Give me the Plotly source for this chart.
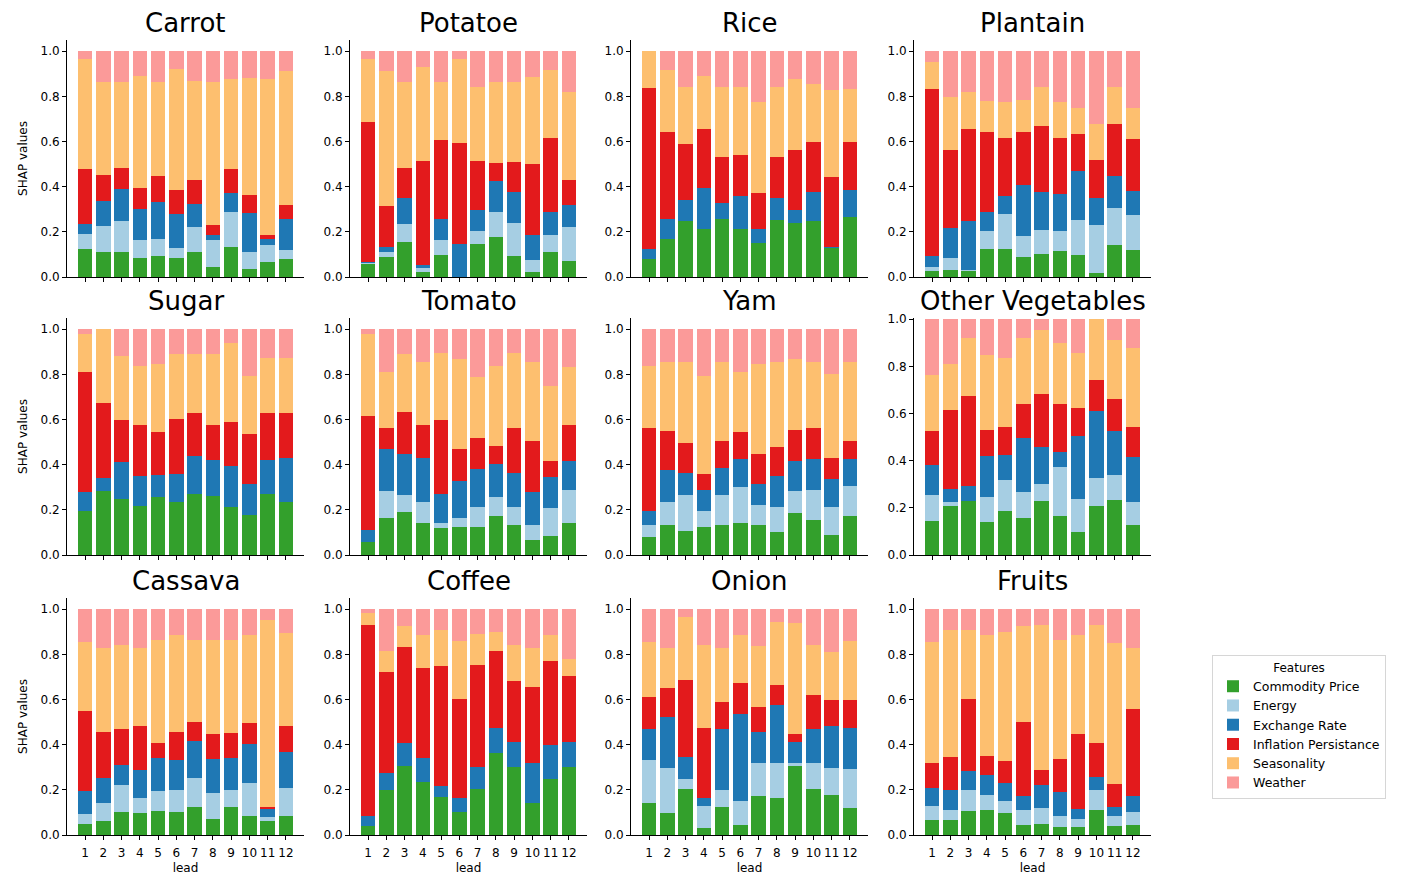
import plotly.graph_objects as go
from plotly.subplots import make_subplots

# Forecast horizons (months ahead)
leads = list(range(1, 13))

features = ["Commodity Price", "Energy", "Exchange Rate",
            "Inflation Persistance", "Seasonality", "Weather"]
colors = ["#33a02c", "#a6cee3", "#1f78b4", "#e31a1c", "#fdbf6f", "#fb9a99"]

# Normalised mean |SHAP| share per feature group, one list per feature (order as `features`)
carrot = [
    [.124, .112, .112, .085, .094, .085, .112, .043, .133, .034, .066, .080],
    [.067, .112, .134, .080, .075, .043, .109, .122, .153, .078, .074, .038],
    [.045, .113, .143, .137, .164, .149, .102, .022, .085, .171, .029, .140],
    [.241, .115, .096, .093, .116, .110, .107, .043, .106, .079, .018, .062],
    [.491, .410, .380, .496, .416, .536, .437, .635, .402, .520, .692, .592],
    [.032, .138, .135, .109, .135, .077, .133, .135, .121, .118, .121, .088],
]
potatoe = [
    [.062, .088, .156, .021, .097, 0, .146, .177, .094, .021, .112, .070],
    [.003, .021, .080, .019, .068, 0, .056, .110, .145, .053, .075, .150],
    [.003, .026, .116, .013, .091, .147, .095, .139, .139, .113, .103, .100],
    [.620, .180, .130, .462, .351, .448, .218, .078, .130, .314, .324, .110],
    [.280, .597, .383, .416, .258, .373, .327, .361, .357, .386, .302, .390],
    [.032, .088, .135, .069, .135, .032, .158, .135, .135, .113, .084, .180],
]
rice = [
    [.080, .168, .246, .212, .258, .214, .150, .253, .239, .249, .131, .268],
    [0, 0, 0, 0, 0, 0, 0, 0, 0, 0, 0, 0],
    [.044, .088, .096, .181, .070, .146, .062, .099, .058, .129, .004, .119],
    [.714, .388, .247, .261, .202, .180, .159, .178, .266, .218, .307, .209],
    [.162, .275, .253, .236, .312, .302, .405, .312, .316, .261, .386, .239],
    [0, .081, .158, .110, .158, .158, .224, .158, .121, .143, .172, .165],
]
plantain = [
    [.028, .032, .028, .124, .124, .088, .103, .115, .099, .018, .144, .118],
    [.015, .052, .004, .082, .154, .095, .106, .091, .154, .212, .161, .157],
    [.048, .131, .214, .084, .083, .226, .169, .162, .215, .121, .144, .108],
    [.744, .348, .408, .354, .253, .235, .291, .246, .165, .167, .228, .227],
    [.118, .235, .166, .135, .162, .139, .173, .162, .114, .162, .165, .137],
    [.047, .202, .180, .221, .224, .217, .158, .224, .253, .320, .158, .253],
]
sugar = [
    [.194, .282, .246, .216, .256, .235, .269, .263, .212, .179, .269, .235],
    [0, 0, 0, 0, 0, 0, 0, 0, 0, 0, 0, 0],
    [.085, .061, .166, .133, .100, .125, .168, .158, .181, .134, .152, .194],
    [.530, .331, .184, .225, .191, .243, .192, .153, .195, .221, .208, .200],
    [.169, .326, .286, .264, .299, .287, .261, .316, .353, .260, .242, .242],
    [.022, 0, .118, .162, .154, .110, .110, .110, .059, .206, .129, .129],
]
tomato = [
    [.059, .165, .191, .140, .118, .125, .122, .172, .135, .065, .085, .140],
    [0, .117, .077, .095, .026, .041, .091, .085, .078, .067, .124, .147],
    [.051, .189, .181, .194, .125, .160, .169, .147, .150, .147, .137, .131],
    [.508, .091, .183, .145, .327, .145, .136, .078, .199, .225, .069, .156],
    [.360, .247, .258, .279, .301, .397, .269, .356, .335, .349, .335, .260],
    [.022, .191, .110, .147, .103, .132, .213, .162, .103, .147, .250, .166],
]
yam = [
    [.081, .132, .107, .124, .132, .143, .132, .103, .188, .157, .088, .172],
    [.051, .103, .158, .070, .136, .158, .089, .110, .096, .133, .125, .132],
    [.062, .143, .098, .093, .117, .125, .092, .136, .131, .136, .125, .122],
    [.368, .173, .133, .073, .122, .118, .133, .129, .139, .136, .091, .081],
    [.276, .302, .357, .434, .346, .265, .400, .375, .314, .291, .372, .346],
    [.162, .147, .147, .206, .147, .191, .154, .147, .132, .147, .199, .147],
]
other_vegetables = [
    [.145, .206, .229, .138, .187, .156, .229, .166, .098, .206, .232, .126],
    [.108, .019, 0, .108, .129, .111, .070, .206, .138, .120, .109, .099],
    [.130, .056, .063, .174, .107, .230, .160, .066, .270, .285, .183, .192],
    [.144, .334, .382, .111, .121, .145, .225, .201, .116, .133, .136, .124],
    [.236, .195, .246, .319, .292, .278, .271, .260, .235, .256, .253, .337],
    [.237, .190, .080, .150, .164, .080, .045, .101, .143, 0, .087, .122],
]
cassava = [
    [.049, .060, .100, .096, .107, .100, .122, .071, .122, .085, .063, .085],
    [.042, .084, .121, .070, .089, .100, .132, .117, .077, .147, .015, .125],
    [.105, .110, .088, .121, .147, .134, .162, .147, .144, .169, .041, .158],
    [.353, .203, .162, .195, .066, .123, .085, .111, .110, .096, .006, .117],
    [.307, .371, .372, .346, .456, .430, .364, .419, .412, .390, .828, .409],
    [.144, .172, .157, .172, .135, .113, .135, .135, .135, .113, .047, .106],
]
coffee = [
    [.041, .199, .306, .237, .169, .104, .203, .362, .301, .141, .247, .300],
    [0, 0, 0, 0, 0, 0, 0, 0, 0, 0, 0, 0],
    [.044, .075, .103, .103, .049, .059, .100, .113, .111, .180, .152, .110],
    [.846, .448, .426, .400, .529, .440, .451, .338, .272, .333, .370, .293],
    [.051, .094, .089, .147, .162, .257, .136, .088, .159, .174, .118, .077],
    [.018, .184, .076, .113, .091, .140, .110, .099, .157, .172, .113, .220],
]
onion = [
    [.141, .097, .203, .031, .126, .044, .174, .166, .306, .203, .176, .119],
    [.191, .199, .044, .098, .074, .107, .144, .152, .012, .115, .120, .175],
    [.136, .226, .099, .034, .271, .386, .139, .256, .094, .150, .186, .181],
    [.144, .129, .342, .309, .117, .137, .109, .089, .037, .151, .114, .121],
    [.245, .177, .280, .371, .240, .213, .272, .280, .489, .224, .214, .264],
    [.143, .172, .032, .157, .172, .113, .162, .057, .062, .157, .190, .140],
]
fruits = [
    [.066, .066, .107, .110, .096, .044, .049, .034, .034, .112, .041, .044],
    [.063, .046, .093, .068, .053, .068, .070, .048, .037, .088, .044, .056],
    [.081, .087, .084, .087, .083, .062, .102, .109, .044, .059, .041, .074],
    [.108, .147, .320, .085, .096, .326, .067, .144, .334, .150, .099, .386],
    [.539, .563, .305, .537, .573, .424, .643, .530, .438, .522, .625, .268],
    [.143, .091, .091, .113, .099, .076, .069, .135, .113, .069, .150, .172],
]

panels = [
    ("Carrot", carrot), ("Potatoe", potatoe), ("Rice", rice), ("Plantain", plantain),
    ("Sugar", sugar), ("Tomato", tomato), ("Yam", yam), ("Other Vegetables", other_vegetables),
    ("Cassava", cassava), ("Coffee", coffee), ("Onion", onion), ("Fruits", fruits),
]

W, H = 1406, 880
col_left = [67, 350, 631, 914]
col_width = 237
row_top = [40, 318, 598]
row_height = 237

FONT = "DejaVu Sans, Liberation Sans, sans-serif"

fig = make_subplots(rows=3, cols=4)
fig.update_layout(barmode="stack")

annotations = []
for i, (name, shares) in enumerate(panels):
    r, c = i // 4 + 1, i % 4 + 1
    for k, feat in enumerate(features):
        fig.add_trace(
            go.Bar(
                x=leads, y=shares[k], name=feat, marker_color=colors[k],
                marker_line_width=0, width=0.8, legendgroup=feat,
                showlegend=(i == 0),
            ),
            row=r, col=c,
        )
    x0 = col_left[c - 1] / W
    x1 = (col_left[c - 1] + col_width) / W
    y1 = 1 - row_top[r - 1] / H
    y0 = 1 - (row_top[r - 1] + row_height) / H
    fig.update_xaxes(
        domain=[x0, x1], range=[0.01, 12.99], tickvals=leads,
        ticktext=[str(v) for v in leads], showticklabels=(r == 3),
        showline=True, linecolor="black", linewidth=1, mirror=False,
        ticks="outside", ticklen=4, tickwidth=1, tickcolor="black",
        ticklabelstandoff=3,
        showgrid=False, zeroline=False, automargin=False,
        tickfont=dict(family=FONT, size=12, color="black"),
        title=dict(text="lead", font=dict(family=FONT, size=12, color="black"), standoff=4) if r == 3 else None,
        row=r, col=c,
    )
    yrange = [0, 1.005] if name == "Other Vegetables" else [0, 1.05]
    fig.update_yaxes(
        domain=[y0, y1], range=yrange, tickvals=[0, 0.2, 0.4, 0.6, 0.8, 1.0],
        ticktext=["0.0", "0.2", "0.4", "0.6", "0.8", "1.0"],
        showline=True, linecolor="black", linewidth=1,
        ticks="outside", ticklen=4, tickwidth=1, tickcolor="black",
        showgrid=False, zeroline=False, automargin=False,
        tickfont=dict(family=FONT, size=12, color="black"),
        title=dict(text="SHAP values", font=dict(family=FONT, size=12, color="black"), standoff=10) if c == 1 else None,
        row=r, col=c,
    )
    annotations.append(dict(
        text=name, x=(x0 + x1) / 2, y=y1, xref="paper", yref="paper",
        xanchor="center", yanchor="bottom", yshift=0, showarrow=False,
        font=dict(family=FONT, size=26, color="black"),
    ))

fig.update_layout(
    width=W, height=H,
    margin=dict(l=0, r=0, t=0, b=0, autoexpand=False),
    paper_bgcolor="white", plot_bgcolor="white",
    bargap=0.2,
    annotations=annotations,
    font=dict(family=FONT, size=12, color="black"),
    legend=dict(
        x=1212 / W, y=1 - 655 / H, xanchor="left", yanchor="top",
        bgcolor="white", bordercolor="#d6d6d6", borderwidth=1,
        title=dict(text="Features", side="top center",
                   font=dict(family=FONT, size=12, color="black")),
        font=dict(family=FONT, size=12.5, color="black"),
        itemwidth=30, tracegroupgap=0,
    ),
)

fig.write_html("out.html")
